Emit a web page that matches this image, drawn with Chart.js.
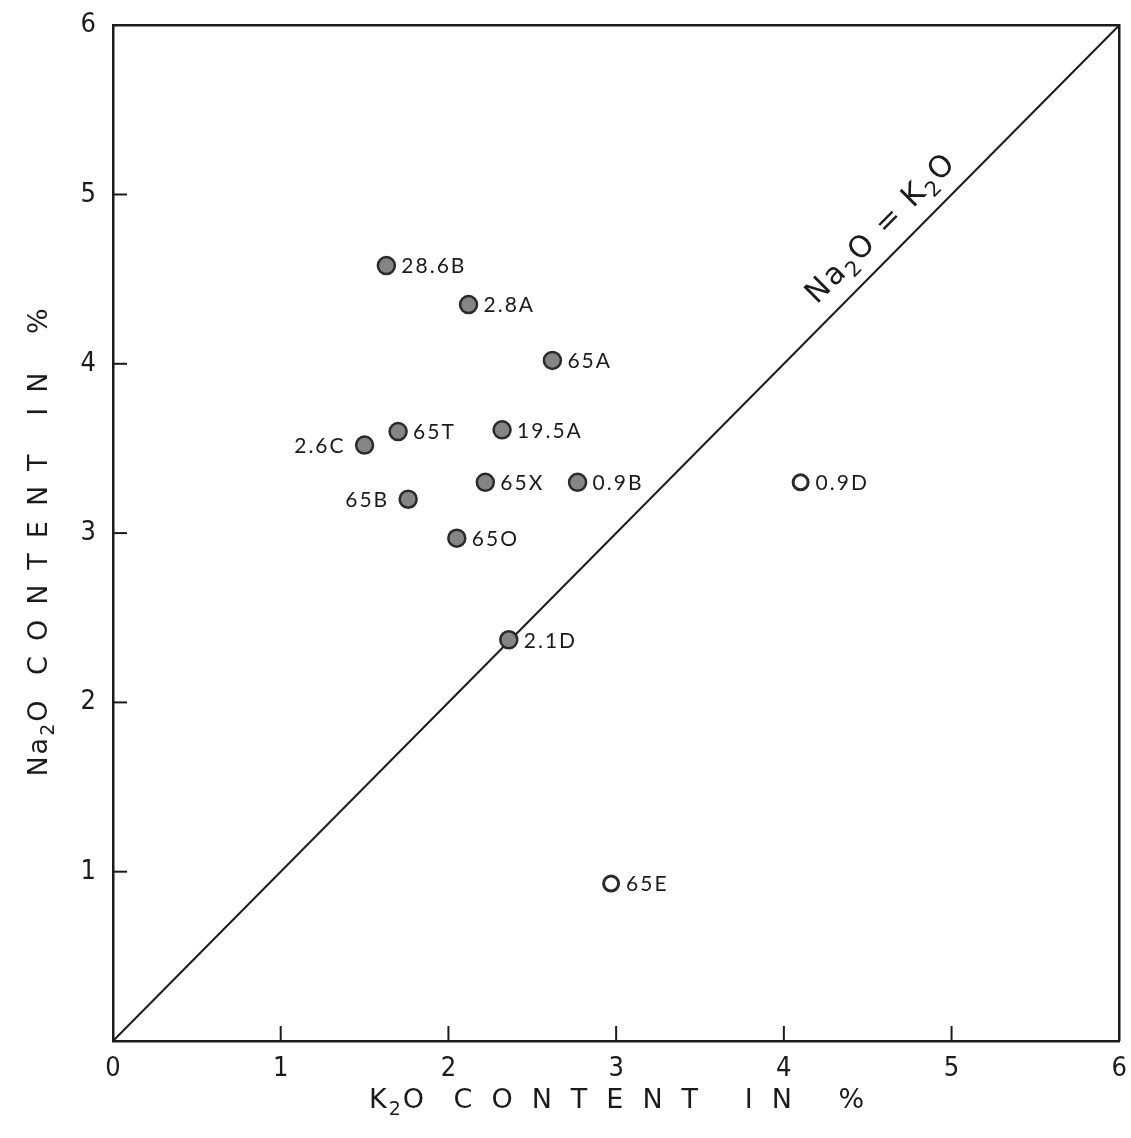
<!DOCTYPE html>
<html>
<head>
<meta charset="utf-8">
<script src="https://cdn.jsdelivr.net/npm/chart.js@4/dist/chart.umd.min.js"></script>
<style>
  html, body { margin: 0; padding: 0; background: #fff; }
  #chart { display: block; }
</style>
</head>
<body>
<canvas id="chart" width="1131" height="1138"></canvas>
<script>
// samples plotted as filled circles
const filledNames = ['28.6B', '2.8A', '65A', '19.5A', '65T', '2.6C', '65X', '0.9B', '65B', '65O', '2.1D'];
const filledK2O   = [1.63, 2.12, 2.62, 2.32, 1.70, 1.50, 2.22, 2.77, 1.76, 2.05, 2.36];
const filledNa2O  = [4.58, 4.35, 4.02, 3.61, 3.60, 3.52, 3.30, 3.30, 3.20, 2.97, 2.37];

// samples plotted as open circles
const openNames = ['0.9D', '65E'];
const openK2O   = [4.10, 2.97];
const openNa2O  = [3.30, 0.93];

// Na2O = K2O reference line
const equalK2O  = [0, 6];
const equalNa2O = [0, 6];

const tickValues = [0, 1, 2, 3, 4, 5, 6];
const leftLabelled = ['2.6C', '65B'];

// text pieces: a leading "_" marks a subscript
const xTitle = ['K', '_2', 'O', ' CONTENT IN %'];
const yTitle = ['Na', '_2', 'O', ' CONTENT IN %'];
const lineLabel = ['Na', '_2', 'O = K', '_2', 'O'];

const ink = '#1b1b1b';
const family = '"DejaVu Sans", sans-serif';

function toPoints(xs, ys) {
  return xs.map((x, i) => ({ x: x, y: ys[i] }));
}

// draws text pieces centred on (0,0), subscripts smaller and lowered;
// only the last piece gets the wide letter spacing
function drawPieces(ctx, pieces, size, spacing) {
  const big = size + 'px ' + family;
  const small = Math.round(size * 0.7) + 'px ' + family;
  const last = pieces.length - 1;
  const items = pieces.map((p, i) => {
    const sub = p[0] === '_';
    return {
      text: sub ? p.slice(1) : p,
      font: sub ? small : big,
      dy: sub ? size * 0.32 : 0,
      gap: (i === last ? spacing : Math.min(spacing, 2)) + 'px',
    };
  });
  let total = 0;
  items.forEach((it) => {
    ctx.font = it.font;
    ctx.letterSpacing = it.gap;
    it.w = ctx.measureText(it.text).width;
    total += it.w;
  });
  let x = -total / 2;
  items.forEach((it) => {
    ctx.font = it.font;
    ctx.letterSpacing = it.gap;
    ctx.fillText(it.text, x, it.dy);
    x += it.w;
  });
}

// frame, inward tick marks, point labels and axis titles
const decorations = {
  id: 'decorations',
  afterDraw(chart) {
    const ctx = chart.ctx;
    const area = chart.chartArea;
    const xs = chart.scales.x;
    const ys = chart.scales.y;

    ctx.save();
    ctx.strokeStyle = ink;
    ctx.lineWidth = 2.5;
    ctx.beginPath();
    ctx.moveTo(area.left, area.top);
    ctx.lineTo(area.right, area.top);
    ctx.lineTo(area.right, area.bottom);
    ctx.stroke();

    ctx.lineWidth = 2;
    tickValues.slice(1, -1).forEach((v) => {
      const px = xs.getPixelForValue(v);
      ctx.beginPath();
      ctx.moveTo(px, area.bottom);
      ctx.lineTo(px, area.bottom - 15);
      ctx.stroke();
      const py = ys.getPixelForValue(v);
      ctx.beginPath();
      ctx.moveTo(area.left, py);
      ctx.lineTo(area.left + 14, py);
      ctx.stroke();
    });

    // sample names
    ctx.fillStyle = ink;
    ctx.font = '21px Lato, "Open Sans", sans-serif';
    ctx.letterSpacing = '2px';
    ctx.textBaseline = 'middle';
    const names = [filledNames, openNames];
    names.forEach((list, di) => {
      const meta = chart.getDatasetMeta(di);
      meta.data.forEach((el, i) => {
        const name = list[i];
        if (leftLabelled.includes(name)) {
          ctx.textAlign = 'right';
          ctx.fillText(name, el.x - 19, el.y + 1);
        } else {
          ctx.textAlign = 'left';
          ctx.fillText(name, el.x + 15, el.y + 1);
        }
      });
    });
    ctx.restore();

    // label along the Na2O = K2O line
    ctx.save();
    ctx.fillStyle = ink;
    ctx.textAlign = 'left';
    ctx.textBaseline = 'middle';
    const t = 4.69;
    ctx.translate(xs.getPixelForValue(t) - 18, ys.getPixelForValue(t) - 18);
    ctx.rotate(-Math.PI / 4);
    drawPieces(ctx, lineLabel, 30, 2);
    ctx.restore();

    // axis titles
    ctx.save();
    ctx.fillStyle = ink;
    ctx.textAlign = 'left';
    ctx.textBaseline = 'middle';
    ctx.translate(626, 1101);
    drawPieces(ctx, xTitle, 27, 19);
    ctx.restore();

    ctx.save();
    ctx.fillStyle = ink;
    ctx.textAlign = 'left';
    ctx.textBaseline = 'middle';
    ctx.translate(40, 535);
    ctx.rotate(-Math.PI / 2);
    drawPieces(ctx, yTitle, 27, 15);
    ctx.restore();
  }
};

const ctx = document.getElementById('chart').getContext('2d');
const chart = new Chart(ctx, {
  type: 'scatter',
  data: {
    datasets: [
      {
        label: 'filled',
        data: toPoints(filledK2O, filledNa2O),
        pointRadius: 8.5,
        pointBackgroundColor: '#858585',
        pointBorderColor: '#2a2a2a',
        pointBorderWidth: 2.5,
      },
      {
        label: 'open',
        data: toPoints(openK2O, openNa2O),
        pointRadius: 7.5,
        pointBackgroundColor: '#ffffff',
        pointBorderColor: '#2a2a2a',
        pointBorderWidth: 3,
      },
      {
        type: 'line',
        label: 'Na2O = K2O',
        data: toPoints(equalK2O, equalNa2O),
        borderColor: ink,
        borderWidth: 2,
        pointRadius: 0,
        fill: false,
      },
    ],
  },
  options: {
    responsive: false,
    animation: false,
    devicePixelRatio: 1,
    layout: { padding: { top: 25, right: 9, left: 0, bottom: 0 } },
    plugins: {
      legend: { display: false },
      tooltip: { enabled: false },
    },
    scales: {
      x: {
        type: 'linear',
        min: 0,
        max: 6,
        grid: { display: false },
        border: { display: true, color: ink, width: 2.5 },
        ticks: {
          stepSize: 1,
          padding: 4,
          color: ink,
          font: { family: '"DejaVu Sans Condensed", "DejaVu Sans", sans-serif', size: 27 },
        },
        afterFit(scale) { scale.height = 97; },
      },
      y: {
        type: 'linear',
        min: 0,
        max: 6,
        grid: { display: false },
        border: { display: true, color: ink, width: 2.5 },
        ticks: {
          stepSize: 1,
          padding: 9,
          color: ink,
          font: { family: '"DejaVu Sans Condensed", "DejaVu Sans", sans-serif', size: 27 },
          callback: (v) => (v === 0 ? '' : v),
        },
        afterFit(scale) { scale.width = 113; },
      },
    },
  },
  plugins: [decorations],
});
</script>
</body>
</html>
